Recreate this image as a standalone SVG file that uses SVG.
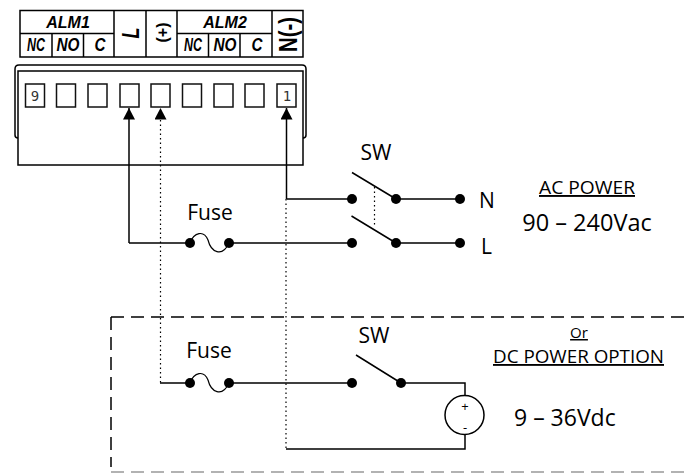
<svg xmlns="http://www.w3.org/2000/svg" width="687" height="473" viewBox="0 0 687 473">
<defs>
<style>
.ln{fill:none;stroke:#000;stroke-width:1.5}
.th{fill:none;stroke:#000;stroke-width:1.2}
.dot{fill:none;stroke:#000;stroke-width:1.2;stroke-dasharray:1.5 3}
.d{fill:#000}
.t{font-family:"Open Sans","Noto Sans",sans-serif;fill:#000}
.h{font-family:"Liberation Sans",Arial,sans-serif;font-style:italic;font-weight:bold;fill:#000;text-anchor:middle}
.s{font-size:19px}
.a{font-size:16px}
.m{font-family:"DejaVu Sans Mono",monospace;font-size:14px;fill:#333;text-anchor:middle}
.term{fill:#fff;stroke:#111;stroke-width:1.5}
</style>
<marker id="ah" markerUnits="userSpaceOnUse" markerWidth="13" markerHeight="13" refX="12" refY="6" viewBox="0 0 13 13" orient="auto"><path d="M0.500 0 L12 6 L0.500 12 Z" fill="#000"/></marker>
</defs>
<rect width="687" height="473" fill="#fff"/>
<g id="header">
<path class="ln" d="M20 10.500H303V57H20ZM20 33.500H114M177 33.500H272M52 33.500V57M83.500 33.500V57M114 10.500V57M146 10.500V57M177 10.500V57M208.500 33.500V57M240 33.500V57M272 10.500V57"/>
<text class="h a" x="68" y="28">ALM1</text>
<text class="h a" x="225" y="28">ALM2</text>
<text class="h s" x="36" y="51" textLength="18" lengthAdjust="spacingAndGlyphs">NC</text><text class="h s" x="68" y="51" textLength="23" lengthAdjust="spacingAndGlyphs">NO</text><text class="h s" x="100" y="51" textLength="11" lengthAdjust="spacingAndGlyphs">C</text>
<text class="h s" x="193" y="51" textLength="18" lengthAdjust="spacingAndGlyphs">NC</text><text class="h s" x="225" y="51" textLength="23" lengthAdjust="spacingAndGlyphs">NO</text><text class="h s" x="257" y="51" textLength="11" lengthAdjust="spacingAndGlyphs">C</text>
<text class="h" transform="translate(138.500 33) rotate(-90)" style="font-size:24px" textLength="11" lengthAdjust="spacingAndGlyphs">L</text>
<text class="h" transform="translate(168 32.500) rotate(-90)" style="font-size:17px;font-style:normal" textLength="20" lengthAdjust="spacingAndGlyphs">(+)</text>
<text class="h" transform="translate(297 34.500) rotate(-90)" style="font-size:26px;font-style:normal" textLength="35" lengthAdjust="spacingAndGlyphs">N(-)</text>
</g>
<g id="housing">
<path class="ln" d="M18 138Q15 138 15 135V69Q15 65 19 65H302Q306 65 306 69V135Q306 138 303 138"/>
<rect class="ln" x="18" y="71" width="285" height="94"/>
<g id="terminals">
<rect class="term" x="25.500" y="84" width="19" height="23"/><rect class="term" x="56.500" y="84" width="19" height="23"/><rect class="term" x="88" y="84" width="19" height="23"/><rect class="term" x="120" y="84" width="19" height="23"/><rect class="term" x="151" y="84" width="19" height="23"/><rect class="term" x="182.500" y="84" width="19" height="23"/><rect class="term" x="214" y="84" width="19" height="23"/><rect class="term" x="245" y="84" width="19" height="23"/><rect class="term" x="277" y="84" width="19" height="23"/>
<text class="m" x="35" y="101">9</text><text class="m" x="287" y="101">1</text>
</g>
</g>
<g id="connectors">
<path class="dot" d="M160.500 120V383"/>
<path class="dot" d="M286 199V449"/>
<path class="dot" d="M374.500 187V226"/>
<path class="ln" d="M129 243V108" marker-end="url(#ah)"/>
<path class="ln" d="M286.500 199V108" marker-end="url(#ah)"/>
<path d="M160.500 120V108" fill="none" stroke="none" marker-end="url(#ah)"/>
<path class="ln" d="M129 243H190M229 243H352M396 243H460M286.500 199H352M396 199H460"/>
<path class="ln" d="M352 172.500L396 199M351.500 216L396 243M356 355L401 383"/>
<path class="ln" d="M160 383H190M229 383H352M401 383H465V395M465 435V449H286"/>
<path class="th" d="M190 243C194 232 204 230 208 240C211 252 222 258 229 243M190 383C194 372 204 370 208 380C211 392 222 398 229 383"/>
</g>
<g id="switch-n"><circle class="d" cx="352" cy="199" r="5"/><circle class="d" cx="396" cy="199" r="5"/><circle class="d" cx="460" cy="199" r="5"/></g>
<g id="switch-l"><circle class="d" cx="352" cy="243" r="5"/><circle class="d" cx="396" cy="243" r="5"/><circle class="d" cx="460" cy="243" r="5"/></g>
<g id="fuse-ac"><circle class="d" cx="190" cy="243" r="5"/><circle class="d" cx="229" cy="243" r="5"/></g>
<g id="fuse-dc"><circle class="d" cx="190" cy="383" r="5"/><circle class="d" cx="229" cy="383" r="5"/></g>
<g id="switch-dc"><circle class="d" cx="352" cy="383" r="5"/><circle class="d" cx="401" cy="383" r="5"/></g>
<g id="source"><circle cx="464.500" cy="415" r="19.500" fill="#fff" stroke="#000" stroke-width="1.5"/>
<text class="t" x="465" y="411" font-size="13" text-anchor="middle">+</text><text class="t" x="465" y="432" font-size="13" text-anchor="middle">-</text></g>
<g id="box">
<path fill="none" stroke="#000" stroke-width="1.5" stroke-dasharray="13 7" d="M111 317H687"/>
<path fill="none" stroke="#000" stroke-width="1.5" stroke-dasharray="13 7" d="M111 317V467"/>
<path fill="none" stroke="#999" stroke-width="1.5" stroke-dasharray="13 7" d="M111 472H687"/>
</g>
<g id="labels">
<text class="t" x="376" y="160" font-size="21" text-anchor="middle">SW</text>
<text class="t" x="210" y="220" font-size="21" text-anchor="middle">Fuse</text>
<text class="t" x="209" y="358" font-size="21" text-anchor="middle">Fuse</text>
<text class="t" x="374" y="343" font-size="21" text-anchor="middle">SW</text>
<text class="t" x="479" y="208" font-size="21">N</text>
<text class="t" x="481" y="254" font-size="21">L</text>
<text class="t" x="587" y="194" font-size="19" text-anchor="middle" text-decoration="underline" textLength="96" lengthAdjust="spacingAndGlyphs">AC POWER</text>
<text class="t" x="587" y="231" font-size="23.500" text-anchor="middle">90 – 240Vac</text>
<text class="t" x="579" y="338" font-size="15" text-anchor="middle" text-decoration="underline">Or</text>
<text class="t" x="578.500" y="363" font-size="18.500" text-anchor="middle" text-decoration="underline" textLength="171" lengthAdjust="spacingAndGlyphs">DC POWER OPTION</text>
<text class="t" x="514" y="426" font-size="23">9 – 36Vdc</text>
</g>
</svg>
